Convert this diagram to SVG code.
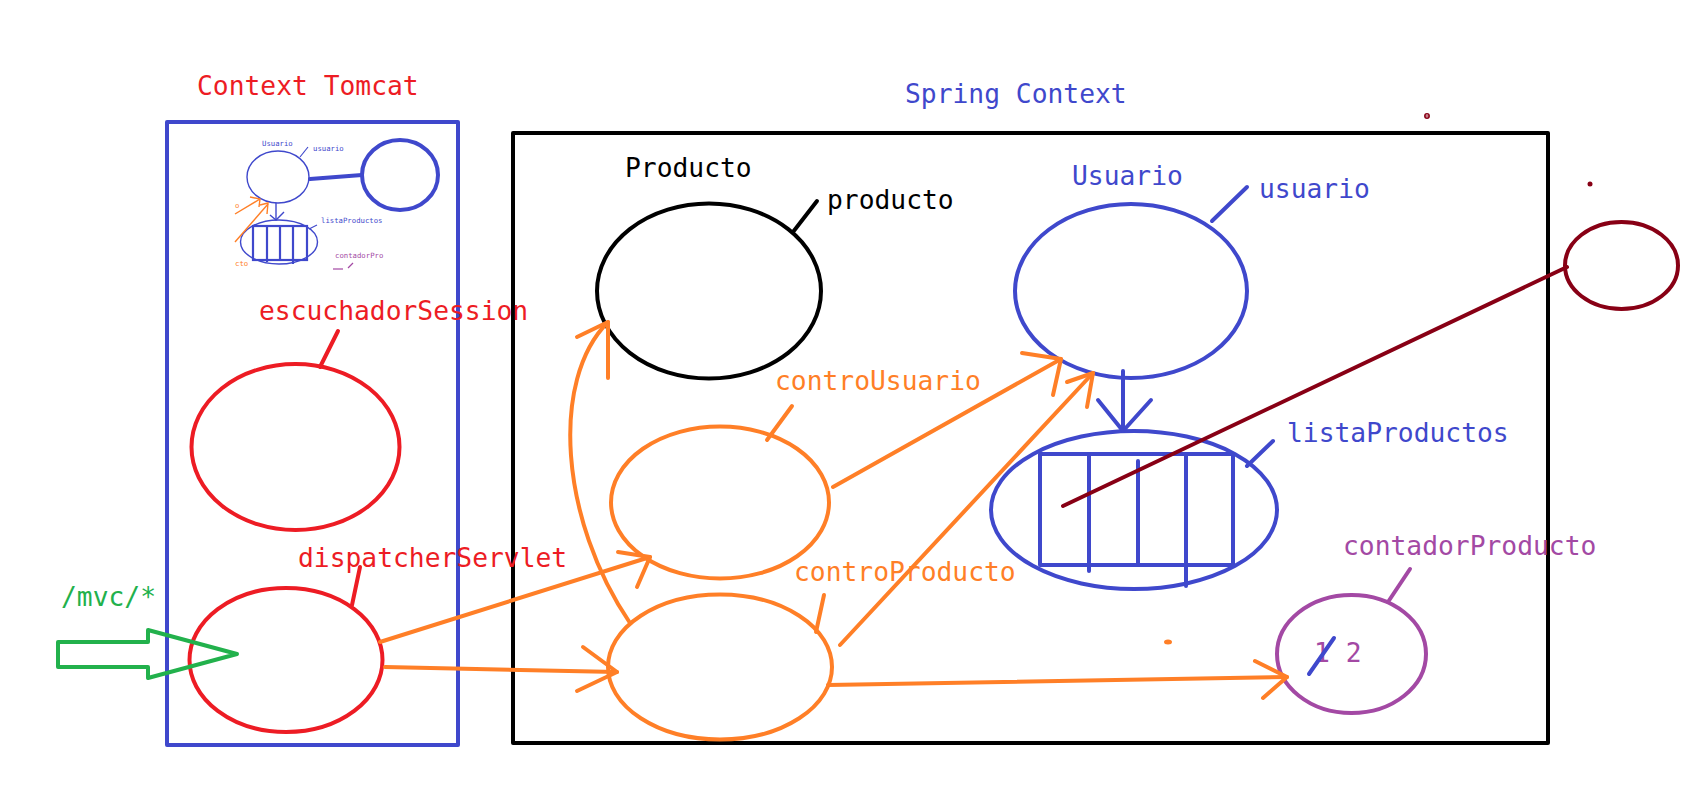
<svg xmlns="http://www.w3.org/2000/svg" width="1689" height="794" viewBox="0 0 1689 794">
<style>
text{font-family:"DejaVu Sans Mono","Liberation Mono",monospace;font-size:26.3px}
.tiny{font-size:7.3px}
.s{fill:none;stroke-width:4;stroke-linecap:round;stroke-linejoin:round}
.red{stroke:#ed1c24}.blue{stroke:#3f48cc}.org{stroke:#ff7f27}.blk{stroke:#000}.pur{stroke:#a349a4}.mar{stroke:#880015}.grn{stroke:#22b14c}
.tr{fill:#ed1c24}.tb{fill:#3f48cc}.to{fill:#ff7f27}.tk{fill:#000}.tp{fill:#a349a4}.tg{fill:#22b14c}
</style>
<rect width="1689" height="794" fill="#fff"/>

<g id="tomcat-context">
<rect x="167" y="122" width="291" height="623" class="s blue" stroke-linecap="square"/>
<text x="197" y="95" class="tr">Context Tomcat</text>
</g>

<g id="spring-context">
<rect x="513" y="133" width="1035" height="610" class="s blk" stroke-width="4.5" stroke-linecap="square"/>
<text x="905" y="103" class="tb">Spring Context</text>
</g>

<g id="thumbnail">
<ellipse cx="278" cy="177" rx="31" ry="26" fill="none" stroke="#3f48cc" stroke-width="1.4"/>
<ellipse cx="400" cy="175" rx="38" ry="35" class="s blue" stroke-width="4.5"/>
<line x1="310" y1="179" x2="362" y2="175" class="s blue" stroke-width="4"/>
<line x1="300" y1="157" x2="308" y2="147" stroke="#3f48cc" stroke-width="1.2"/>
<text x="262" y="146" class="tiny tb">Usuario</text>
<text x="313" y="151" class="tiny tb">usuario</text>
<line x1="276" y1="203" x2="276" y2="219" stroke="#3f48cc" stroke-width="1.4"/>
<polyline points="270,215 276,220 284,212" fill="none" stroke="#3f48cc" stroke-width="1.4"/>
<ellipse cx="279" cy="242" rx="38.5" ry="22" fill="none" stroke="#3f48cc" stroke-width="1.4"/>
<rect x="253" y="226" width="54" height="34" fill="none" stroke="#3f48cc" stroke-width="2.2"/>
<line x1="267" y1="226" x2="267" y2="262" stroke="#3f48cc" stroke-width="2.2"/>
<line x1="280" y1="227" x2="280" y2="259" stroke="#3f48cc" stroke-width="2.2"/>
<line x1="293" y1="226" x2="293" y2="264" stroke="#3f48cc" stroke-width="2.2"/>
<line x1="309" y1="229" x2="317" y2="225" stroke="#3f48cc" stroke-width="1.2"/>
<text x="321" y="223" class="tiny tb">listaProductos</text>
<text x="335" y="258" class="tiny tp">contadorPro</text>
<line x1="333" y1="269" x2="343" y2="269" stroke="#a349a4" stroke-width="1.2"/>
<line x1="348" y1="268" x2="353" y2="263" stroke="#a349a4" stroke-width="1.2"/>
<g stroke="#ff7f27" stroke-width="1.4" fill="none">
<line x1="235" y1="214" x2="260" y2="199"/>
<polyline points="250,197 260,199 259,207"/>
<line x1="235" y1="242" x2="268" y2="204"/>
<polyline points="260,205 268,203 267,214"/>
</g>
<text x="235" y="208" class="tiny to">o</text>
<text x="235" y="266" class="tiny to">cto</text>
</g>

<g id="escuchadorSession">
<ellipse cx="295.5" cy="447" rx="104" ry="83" class="s red"/>
<line x1="320" y1="367" x2="338" y2="331" class="s red"/>
<text x="259" y="320" class="tr">escuchadorSession</text>
</g>

<g id="dispatcherServlet">
<ellipse cx="286" cy="660" rx="96.5" ry="72" class="s red"/>
<line x1="352" y1="605" x2="360" y2="567" class="s red"/>
<text x="298" y="567" class="tr">dispatcherServlet</text>
</g>

<g id="mvc-entry">
<polygon points="58,642 148,642 148,630 237,654 148,678 148,667 58,667" class="s grn" stroke-linejoin="miter"/>
<text x="61" y="606" class="tg">/mvc/*</text>
</g>

<g id="producto">
<ellipse cx="709" cy="291" rx="112" ry="87.5" class="s blk"/>
<line x1="793" y1="232" x2="817" y2="201" class="s blk"/>
<text x="625" y="177" class="tk">Producto</text>
<text x="827" y="209" class="tk">producto</text>
</g>

<g id="controUsuario">
<ellipse cx="720" cy="502.5" rx="109" ry="76" class="s org"/>
<line x1="767" y1="440" x2="792" y2="406" class="s org"/>
<text x="775" y="390" class="to">controUsuario</text>
</g>

<g id="controProducto">
<ellipse cx="720" cy="667" rx="112" ry="72.5" class="s org"/>
<line x1="816" y1="632" x2="824" y2="595" class="s org"/>
<text x="794" y="581" class="to">controProducto</text>
</g>

<g id="usuario">
<ellipse cx="1131" cy="291" rx="116" ry="87" class="s blue"/>
<line x1="1212" y1="221" x2="1247" y2="187" class="s blue"/>
<text x="1072" y="185" class="tb">Usuario</text>
<text x="1259" y="198" class="tb">usuario</text>
</g>

<g id="listaProductos">
<ellipse cx="1134" cy="510" rx="143" ry="79" class="s blue"/>
<rect x="1040" y="454" width="193" height="111" class="s blue" stroke-width="4.5" stroke-linejoin="miter"/>
<line x1="1089" y1="454" x2="1089" y2="571" class="s blue"/>
<line x1="1138" y1="461" x2="1138" y2="563" class="s blue"/>
<line x1="1186" y1="454" x2="1186" y2="586" class="s blue"/>
<line x1="1247" y1="466" x2="1273" y2="441" class="s blue"/>
<text x="1287" y="442" class="tb">listaProductos</text>
</g>

<g id="contadorProducto">
<ellipse cx="1351.5" cy="654" rx="74.5" ry="59" class="s pur"/>
<line x1="1388" y1="602" x2="1410" y2="569" class="s pur"/>
<text x="1343" y="555" class="tp">contadorProducto</text>
<text x="1314" y="662" class="tp">1 2</text>
<line x1="1309" y1="674" x2="1334" y2="638" class="s blue" stroke-width="3"/>
</g>

<g id="external">
<ellipse cx="1621.5" cy="265.5" rx="56.5" ry="43.5" class="s mar"/>
<circle cx="1590" cy="184" r="2.5" fill="#880015"/>
<circle cx="1427" cy="116" r="2.2" fill="none" stroke="#880015" stroke-width="1.5"/>
<line x1="1425" y1="116" x2="1429" y2="116" stroke="#880015" stroke-width="1"/>
</g>

<g id="connectors">
<line x1="380" y1="642" x2="650" y2="557" class="s org"/>
<polyline points="618,552 650,557 637,587" class="s org"/>
<line x1="385" y1="667" x2="617" y2="672" class="s org"/>
<polyline points="583,647 617,672 577,691" class="s org"/>
<path d="M630,623 C560,520 550,380 608,322" class="s org"/>
<polyline points="577,337 608,322 608,378" class="s org"/>
<line x1="833" y1="487" x2="1061" y2="359" class="s org"/>
<polyline points="1022,353 1061,359 1053,395" class="s org"/>
<line x1="840" y1="645" x2="1093" y2="373" class="s org"/>
<polyline points="1067,382 1093,373 1087,407" class="s org"/>
<line x1="828" y1="685" x2="1287" y2="677" class="s org"/>
<polyline points="1255,661 1287,677 1263,698" class="s org"/>
<ellipse cx="1168" cy="642" rx="4" ry="2.5" fill="#ff7f27"/>
<line x1="1123" y1="371" x2="1123" y2="431" class="s blue"/>
<polyline points="1098,400 1123,431 1151,400" class="s blue"/>
<line x1="1063" y1="506" x2="1567" y2="267" class="s mar"/>
</g>
</svg>
